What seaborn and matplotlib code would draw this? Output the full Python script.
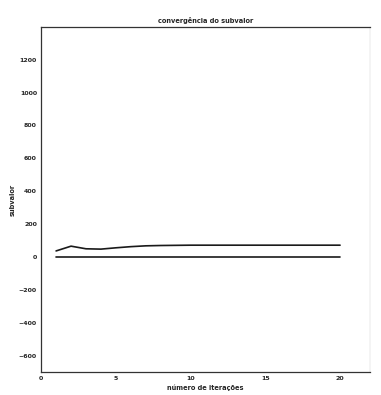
import matplotlib
matplotlib.use('Agg')
import matplotlib.pyplot as plt
import seaborn as sns
import numpy as np
import pandas as pd

iteracoes = list(range(1, 21))
subvalor = [37, 66, 50, 48, 56, 63, 68, 70, 71, 72, 72, 72, 72, 72, 72, 72, 72, 72, 72, 72]
referencia = [0] * 20

sns.set_style('white')
plt.rcParams['font.family'] = ['DejaVu Sans']

df = pd.DataFrame({'iter': iteracoes, 'sub': subvalor, 'ref': referencia})

fig = plt.figure(figsize=(3.81, 3.95), dpi=100)
ax = fig.add_axes([0.108, 0.058, 0.863, 0.874])
sns.lineplot(data=df, x='iter', y='sub', color='#1a1a1a', linewidth=1.2, ax=ax)
sns.lineplot(data=df, x='iter', y='ref', color='#1a1a1a', linewidth=1.2, ax=ax)

ax.set_xlim(0, 22)
ax.set_ylim(-700, 1400)
ax.set_xticks([0, 5, 10, 15, 20])
ax.set_yticks([-600, -400, -200, 0, 200, 400, 600, 800, 1000, 1200])
ax.tick_params(axis='both', labelsize=4.5, length=2, width=0.5, direction='out', pad=1)
for lab in ax.get_xticklabels() + ax.get_yticklabels():
    lab.set_fontweight('bold')
for s in ax.spines.values():
    s.set_color('#333333')
    s.set_linewidth(0.9)
ax.spines['right'].set_linewidth(0.3)
ax.spines['right'].set_color('#cccccc')

ax.set_title('convergência do subvalor', fontsize=4.8, pad=3, fontweight='bold')
ax.set_xlabel('número de iterações', fontsize=4.8, labelpad=2, fontweight='bold')
ax.set_ylabel('subvalor', fontsize=4.8, labelpad=2, fontweight='bold')

fig.savefig('out.png', dpi=100)
